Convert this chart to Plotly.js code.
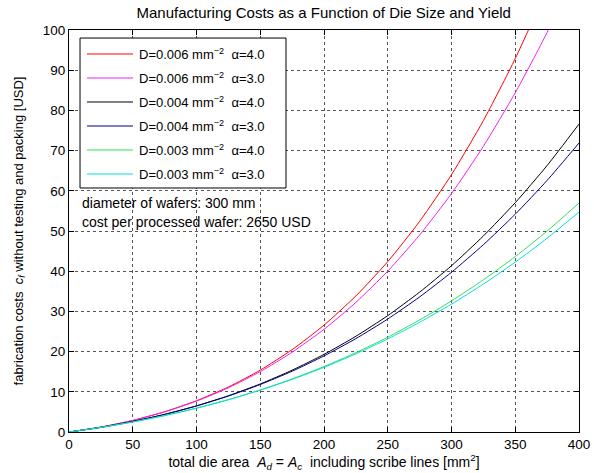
<!DOCTYPE html>
<html>
<head>
<meta charset="utf-8">
<script src="https://cdn.plot.ly/plotly-3.0.1.min.js"></script>
<style>html,body{margin:0;padding:0;background:#fff;}#chart{width:594px;height:473px;}</style>
</head>
<body>
<div id="chart"></div>
<script>
// die area [mm^2]
var dieArea = [0, 25, 50, 75, 100, 125, 150, 175, 200, 225, 250, 275, 300, 325, 350, 375, 400];
// fabrication cost per die [USD]
var costD006a4 = [0, 1.22, 2.88, 5.03, 7.78, 11.19, 15.39, 20.48, 26.58, 33.84, 42.38, 52.40, 64.01, 77.46, 92.89, 110.5, 130.7];
var costD006a3 = [0, 1.22, 2.87, 5.00, 7.68, 10.99, 15.02, 19.84, 25.54, 32.24, 40.02, 49.02, 59.31, 71.07, 84.38, 99.39, 116.3];
var costD004a4 = [0, 1.16, 2.62, 4.39, 6.51, 9.02, 11.95, 15.37, 19.30, 23.81, 28.95, 34.79, 41.36, 48.76, 57.04, 66.29, 76.60];
var costD004a3 = [0, 1.16, 2.62, 4.37, 6.47, 8.94, 11.81, 15.12, 18.92, 23.23, 28.11, 33.60, 39.74, 46.59, 54.18, 62.59, 71.88];
var costD003a4 = [0, 1.14, 2.50, 4.09, 5.94, 8.06, 10.47, 13.20, 16.28, 19.73, 23.58, 27.87, 32.61, 37.86, 43.63, 49.98, 56.95];
var costD003a3 = [0, 1.14, 2.49, 4.08, 5.92, 8.01, 10.40, 13.08, 16.08, 19.44, 23.16, 27.29, 31.81, 36.80, 42.25, 48.21, 54.72];

var seriesNames = [
  'D=0.006 mm<sup>\u22122</sup>  \u03b1=4.0',
  'D=0.006 mm<sup>\u22122</sup>  \u03b1=3.0',
  'D=0.004 mm<sup>\u22122</sup>  \u03b1=4.0',
  'D=0.004 mm<sup>\u22122</sup>  \u03b1=3.0',
  'D=0.003 mm<sup>\u22122</sup>  \u03b1=4.0',
  'D=0.003 mm<sup>\u22122</sup>  \u03b1=3.0'
];
var seriesValues = [costD006a4, costD006a3, costD004a4, costD004a3, costD003a4, costD003a3];
var seriesColors = ['#ff0000', '#ee22ee', '#000000', '#00008b', '#33dd55', '#00e0e0'];

var xTicks = [0, 50, 100, 150, 200, 250, 300, 350, 400];
var yTicks = [0, 10, 20, 30, 40, 50, 60, 70, 80, 90, 100];

var infoLines = ['diameter of wafers: 300 mm', 'cost per processed wafer: 2650 USD'];

var FONT = 'Liberation Sans, Arial, Helvetica, sans-serif';

var traces = seriesValues.map(function (vals, i) {
  return {
    x: dieArea, y: vals, type: 'scatter', mode: 'lines',
    name: seriesNames[i], showlegend: false,
    line: {color: seriesColors[i], width: 1, shape: 'spline', smoothing: 0.6}
  };
});

var axisCommon = {
  showline: true, linecolor: '#000', linewidth: 1, mirror: 'ticks',
  ticks: 'inside', ticklen: 5, tickcolor: '#000', tickwidth: 1,
  showgrid: true, gridcolor: '#555', griddash: 'dot', gridwidth: 1,
  zeroline: false, tickfont: {family: FONT, size: 13.5, color: '#000'}
};

// manual MATLAB-style legend box (paper coords = plot area)
var legBox = {x0: 0.0216, x1: 0.4255, y0: 0.607, y1: 0.980};
var shapes = [{type: 'rect', xref: 'paper', yref: 'paper', x0: legBox.x0, x1: legBox.x1, y0: legBox.y0, y1: legBox.y1,
               fillcolor: '#fff', line: {color: '#000', width: 1}, layer: 'above'}];
var annotations = [];
seriesNames.forEach(function (nm, i) {
  var yy = 0.9403 - i * 0.0597;
  shapes.push({type: 'line', xref: 'paper', yref: 'paper', x0: 0.0353, x1: 0.1255, y0: yy, y1: yy,
               line: {color: seriesColors[i], width: 1}, layer: 'above'});
  annotations.push({xref: 'paper', yref: 'paper', x: 0.1333, y: yy, xanchor: 'left', yanchor: 'middle',
                    showarrow: false, text: nm, font: {family: FONT, size: 13, color: '#000'}});
});
infoLines.forEach(function (t, i) {
  annotations.push({xref: 'paper', yref: 'paper', x: 0.022, y: [0.570, 0.522][i], xanchor: 'left', yanchor: 'middle',
                    showarrow: false, text: t, font: {family: FONT, size: 14, color: '#000'}});
});

var layout = {
  width: 594, height: 473,
  margin: {l: 69, r: 15, t: 30, b: 41},
  paper_bgcolor: '#fff', plot_bgcolor: '#fff',
  font: {family: FONT, size: 12, color: '#000'},
  title: {text: 'Manufacturing Costs as a Function of Die Size and Yield',
          font: {family: FONT, size: 15, color: '#000'},
          x: 0.545, xanchor: 'center', y: 0.974, yanchor: 'middle'},
  xaxis: Object.assign({}, axisCommon, {
    range: [0, 400], tickvals: xTicks, ticktext: xTicks.map(String),
    title: {text: 'total die area  <i>A</i><sub><i>d</i></sub> = <i>A</i><sub><i>c</i></sub>  including scribe lines [mm<sup>2</sup>]',
            font: {family: FONT, size: 14, color: '#000'}, standoff: 1}
  }),
  yaxis: Object.assign({}, axisCommon, {
    range: [0, 100], tickvals: yTicks, ticktext: yTicks.map(String),
    title: {text: 'fabrication costs  <i>c</i><sub><i>f</i></sub> without testing and packing [USD]',
            font: {family: FONT, size: 13, color: '#000'}, standoff: 16}
  }),
  showlegend: false,
  shapes: shapes,
  annotations: annotations
};

Plotly.newPlot('chart', traces, layout, {displayModeBar: false, staticPlot: true});
</script>
</body>
</html>
